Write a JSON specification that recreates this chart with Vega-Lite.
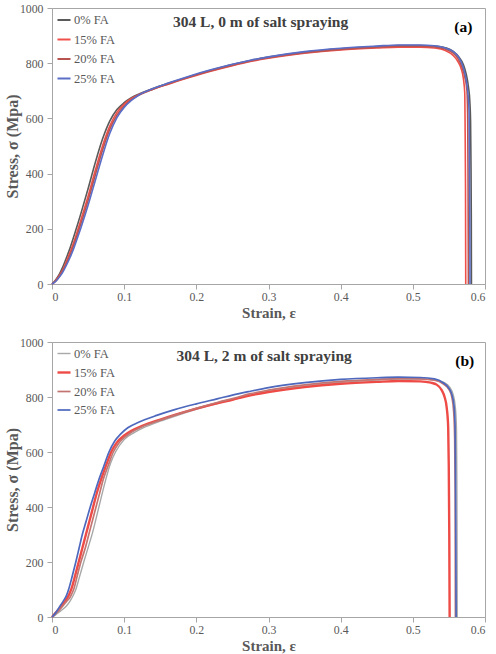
{
"$schema": "https://vega.github.io/schema/vega-lite/v6.json",
"background": "white",
"padding": {"left": 3, "top": 2, "right": 3, "bottom": 0},
"spacing": 14,
"config": {
  "font": "Liberation Serif",
  "view": {"stroke": "#a6a6a6", "strokeWidth": 1},
  "axis": {"grid": false, "labelFont": "Liberation Serif", "labelFontSize": 11.8, "labelColor": "#595959", "titleFont": "Liberation Serif", "titleFontSize": 15, "titleFontWeight": "bold", "titleColor": "#595959", "domainColor": "#a6a6a6", "tickColor": "#a6a6a6", "tickSize": 5},
  "line": {"interpolate": "monotone"},
  "legend": {"orient": "none", "legendX": 4, "legendY": 4, "padding": 0, "title": null, "symbolType": "stroke", "symbolSize": 170, "symbolStrokeWidth": 2, "labelFont": "Liberation Serif", "labelFontSize": 12.5, "labelColor": "#595959", "labelOffset": 2, "rowPadding": 4.5}
},
"resolve": {"scale": {"color": "independent", "strokeWidth": "independent"}, "legend": {"color": "independent", "strokeWidth": "independent"}},
"datasets": {
"a": [
{"series":"0% FA","strain":0,"stress":0},{"series":"0% FA","strain":0.005,"stress":15},{"series":"0% FA","strain":0.01,"stress":35},{"series":"0% FA","strain":0.015,"stress":62},{"series":"0% FA","strain":0.02,"stress":95},{"series":"0% FA","strain":0.025,"stress":130},{"series":"0% FA","strain":0.03,"stress":170},{"series":"0% FA","strain":0.035,"stress":212},{"series":"0% FA","strain":0.04,"stress":255},{"series":"0% FA","strain":0.05,"stress":345},{"series":"0% FA","strain":0.06,"stress":440},{"series":"0% FA","strain":0.07,"stress":525},{"series":"0% FA","strain":0.08,"stress":590},{"series":"0% FA","strain":0.09,"stress":632},{"series":"0% FA","strain":0.1,"stress":657},{"series":"0% FA","strain":0.11,"stress":675},{"series":"0% FA","strain":0.12,"stress":688},{"series":"0% FA","strain":0.14,"stress":708},{"series":"0% FA","strain":0.16,"stress":726},{"series":"0% FA","strain":0.19,"stress":751},{"series":"0% FA","strain":0.22,"stress":774},{"series":"0% FA","strain":0.25,"stress":795},{"series":"0% FA","strain":0.275,"stress":810},{"series":"0% FA","strain":0.3,"stress":822},{"series":"0% FA","strain":0.35,"stress":840},{"series":"0% FA","strain":0.4,"stress":852},{"series":"0% FA","strain":0.45,"stress":860},{"series":"0% FA","strain":0.48,"stress":864},{"series":"0% FA","strain":0.51,"stress":864},{"series":"0% FA","strain":0.53,"stress":862},{"series":"0% FA","strain":0.545,"stress":856},{"series":"0% FA","strain":0.556,"stress":843},{"series":"0% FA","strain":0.564,"stress":822},{"series":"0% FA","strain":0.57,"stress":795},{"series":"0% FA","strain":0.574,"stress":760},{"series":"0% FA","strain":0.577,"stress":715},{"series":"0% FA","strain":0.579,"stress":660},{"series":"0% FA","strain":0.58,"stress":590},{"series":"0% FA","strain":0.5805,"stress":450},{"series":"0% FA","strain":0.581,"stress":250},{"series":"0% FA","strain":0.5812,"stress":0},
{"series":"15% FA","strain":0,"stress":0},{"series":"15% FA","strain":0.005,"stress":12},{"series":"15% FA","strain":0.01,"stress":30},{"series":"15% FA","strain":0.015,"stress":52},{"series":"15% FA","strain":0.02,"stress":82},{"series":"15% FA","strain":0.025,"stress":115},{"series":"15% FA","strain":0.03,"stress":150},{"series":"15% FA","strain":0.035,"stress":190},{"series":"15% FA","strain":0.04,"stress":232},{"series":"15% FA","strain":0.05,"stress":318},{"series":"15% FA","strain":0.06,"stress":412},{"series":"15% FA","strain":0.07,"stress":500},{"series":"15% FA","strain":0.08,"stress":572},{"series":"15% FA","strain":0.09,"stress":622},{"series":"15% FA","strain":0.1,"stress":652},{"series":"15% FA","strain":0.11,"stress":672},{"series":"15% FA","strain":0.12,"stress":686},{"series":"15% FA","strain":0.14,"stress":706},{"series":"15% FA","strain":0.16,"stress":723},{"series":"15% FA","strain":0.19,"stress":748},{"series":"15% FA","strain":0.22,"stress":771},{"series":"15% FA","strain":0.25,"stress":791},{"series":"15% FA","strain":0.275,"stress":806},{"series":"15% FA","strain":0.3,"stress":818},{"series":"15% FA","strain":0.35,"stress":836},{"series":"15% FA","strain":0.4,"stress":848},{"series":"15% FA","strain":0.45,"stress":855},{"series":"15% FA","strain":0.48,"stress":858},{"series":"15% FA","strain":0.51,"stress":858},{"series":"15% FA","strain":0.53,"stress":855},{"series":"15% FA","strain":0.545,"stress":846},{"series":"15% FA","strain":0.555,"stress":830},{"series":"15% FA","strain":0.562,"stress":808},{"series":"15% FA","strain":0.567,"stress":780},{"series":"15% FA","strain":0.57,"stress":745},{"series":"15% FA","strain":0.572,"stress":690},{"series":"15% FA","strain":0.5725,"stress":550},{"series":"15% FA","strain":0.573,"stress":350},{"series":"15% FA","strain":0.5733,"stress":0},
{"series":"20% FA","strain":0,"stress":0},{"series":"20% FA","strain":0.005,"stress":10},{"series":"20% FA","strain":0.01,"stress":27},{"series":"20% FA","strain":0.015,"stress":48},{"series":"20% FA","strain":0.02,"stress":75},{"series":"20% FA","strain":0.025,"stress":105},{"series":"20% FA","strain":0.03,"stress":140},{"series":"20% FA","strain":0.035,"stress":178},{"series":"20% FA","strain":0.04,"stress":218},{"series":"20% FA","strain":0.05,"stress":302},{"series":"20% FA","strain":0.06,"stress":395},{"series":"20% FA","strain":0.07,"stress":485},{"series":"20% FA","strain":0.08,"stress":560},{"series":"20% FA","strain":0.09,"stress":612},{"series":"20% FA","strain":0.1,"stress":645},{"series":"20% FA","strain":0.11,"stress":668},{"series":"20% FA","strain":0.12,"stress":684},{"series":"20% FA","strain":0.14,"stress":706},{"series":"20% FA","strain":0.16,"stress":724},{"series":"20% FA","strain":0.19,"stress":750},{"series":"20% FA","strain":0.22,"stress":773},{"series":"20% FA","strain":0.25,"stress":793},{"series":"20% FA","strain":0.275,"stress":808},{"series":"20% FA","strain":0.3,"stress":820},{"series":"20% FA","strain":0.35,"stress":838},{"series":"20% FA","strain":0.4,"stress":850},{"series":"20% FA","strain":0.45,"stress":858},{"series":"20% FA","strain":0.48,"stress":862},{"series":"20% FA","strain":0.51,"stress":862},{"series":"20% FA","strain":0.53,"stress":859},{"series":"20% FA","strain":0.545,"stress":851},{"series":"20% FA","strain":0.556,"stress":836},{"series":"20% FA","strain":0.563,"stress":815},{"series":"20% FA","strain":0.568,"stress":787},{"series":"20% FA","strain":0.572,"stress":750},{"series":"20% FA","strain":0.575,"stress":700},{"series":"20% FA","strain":0.576,"stress":600},{"series":"20% FA","strain":0.5765,"stress":400},{"series":"20% FA","strain":0.577,"stress":0},
{"series":"25% FA","strain":0,"stress":0},{"series":"25% FA","strain":0.005,"stress":9},{"series":"25% FA","strain":0.01,"stress":24},{"series":"25% FA","strain":0.015,"stress":43},{"series":"25% FA","strain":0.02,"stress":68},{"series":"25% FA","strain":0.025,"stress":96},{"series":"25% FA","strain":0.03,"stress":128},{"series":"25% FA","strain":0.035,"stress":165},{"series":"25% FA","strain":0.04,"stress":203},{"series":"25% FA","strain":0.05,"stress":285},{"series":"25% FA","strain":0.06,"stress":375},{"series":"25% FA","strain":0.07,"stress":465},{"series":"25% FA","strain":0.08,"stress":545},{"series":"25% FA","strain":0.09,"stress":603},{"series":"25% FA","strain":0.1,"stress":640},{"series":"25% FA","strain":0.11,"stress":665},{"series":"25% FA","strain":0.12,"stress":684},{"series":"25% FA","strain":0.14,"stress":708},{"series":"25% FA","strain":0.16,"stress":727},{"series":"25% FA","strain":0.19,"stress":753},{"series":"25% FA","strain":0.22,"stress":776},{"series":"25% FA","strain":0.25,"stress":796},{"series":"25% FA","strain":0.275,"stress":811},{"series":"25% FA","strain":0.3,"stress":823},{"series":"25% FA","strain":0.35,"stress":842},{"series":"25% FA","strain":0.4,"stress":854},{"series":"25% FA","strain":0.45,"stress":862},{"series":"25% FA","strain":0.48,"stress":866},{"series":"25% FA","strain":0.51,"stress":866},{"series":"25% FA","strain":0.53,"stress":863},{"series":"25% FA","strain":0.545,"stress":855},{"series":"25% FA","strain":0.556,"stress":842},{"series":"25% FA","strain":0.564,"stress":820},{"series":"25% FA","strain":0.569,"stress":792},{"series":"25% FA","strain":0.573,"stress":752},{"series":"25% FA","strain":0.576,"stress":700},{"series":"25% FA","strain":0.578,"stress":620},{"series":"25% FA","strain":0.5785,"stress":400},{"series":"25% FA","strain":0.579,"stress":200},{"series":"25% FA","strain":0.5792,"stress":0}
],
"b": [
{"series":"0% FA","strain":0,"stress":0},{"series":"0% FA","strain":0.005,"stress":8},{"series":"0% FA","strain":0.01,"stress":18},{"series":"0% FA","strain":0.015,"stress":28},{"series":"0% FA","strain":0.02,"stress":40},{"series":"0% FA","strain":0.025,"stress":58},{"series":"0% FA","strain":0.03,"stress":82},{"series":"0% FA","strain":0.033,"stress":100},{"series":"0% FA","strain":0.038,"stress":145},{"series":"0% FA","strain":0.044,"stress":200},{"series":"0% FA","strain":0.05,"stress":252},{"series":"0% FA","strain":0.056,"stress":305},{"series":"0% FA","strain":0.065,"stress":400},{"series":"0% FA","strain":0.074,"stress":495},{"series":"0% FA","strain":0.081,"stress":558},{"series":"0% FA","strain":0.088,"stress":600},{"series":"0% FA","strain":0.1,"stress":645},{"series":"0% FA","strain":0.115,"stress":672},{"series":"0% FA","strain":0.13,"stress":692},{"series":"0% FA","strain":0.15,"stress":712},{"series":"0% FA","strain":0.17,"stress":730},{"series":"0% FA","strain":0.2,"stress":755},{"series":"0% FA","strain":0.23,"stress":777},{"series":"0% FA","strain":0.25,"stress":790},{"series":"0% FA","strain":0.274,"stress":806},{"series":"0% FA","strain":0.3,"stress":820},{"series":"0% FA","strain":0.35,"stress":840},{"series":"0% FA","strain":0.4,"stress":853},{"series":"0% FA","strain":0.45,"stress":862},{"series":"0% FA","strain":0.48,"stress":865},{"series":"0% FA","strain":0.51,"stress":865},{"series":"0% FA","strain":0.53,"stress":862},{"series":"0% FA","strain":0.543,"stress":853},{"series":"0% FA","strain":0.551,"stress":836},{"series":"0% FA","strain":0.556,"stress":808},{"series":"0% FA","strain":0.559,"stress":760},{"series":"0% FA","strain":0.5605,"stress":680},{"series":"0% FA","strain":0.561,"stress":500},{"series":"0% FA","strain":0.5613,"stress":250},{"series":"0% FA","strain":0.5615,"stress":0},
{"series":"15% FA","strain":0,"stress":0},{"series":"15% FA","strain":0.005,"stress":15},{"series":"15% FA","strain":0.01,"stress":30},{"series":"15% FA","strain":0.015,"stress":46},{"series":"15% FA","strain":0.02,"stress":64},{"series":"15% FA","strain":0.024,"stress":84},{"series":"15% FA","strain":0.027,"stress":103},{"series":"15% FA","strain":0.032,"stress":150},{"series":"15% FA","strain":0.037,"stress":200},{"series":"15% FA","strain":0.042,"stress":250},{"series":"15% FA","strain":0.047,"stress":300},{"series":"15% FA","strain":0.052,"stress":350},{"series":"15% FA","strain":0.057,"stress":400},{"series":"15% FA","strain":0.062,"stress":450},{"series":"15% FA","strain":0.068,"stress":500},{"series":"15% FA","strain":0.075,"stress":552},{"series":"15% FA","strain":0.082,"stress":600},{"series":"15% FA","strain":0.09,"stress":635},{"series":"15% FA","strain":0.1,"stress":660},{"series":"15% FA","strain":0.11,"stress":677},{"series":"15% FA","strain":0.125,"stress":695},{"series":"15% FA","strain":0.15,"stress":718},{"series":"15% FA","strain":0.17,"stress":735},{"series":"15% FA","strain":0.2,"stress":758},{"series":"15% FA","strain":0.23,"stress":778},{"series":"15% FA","strain":0.25,"stress":790},{"series":"15% FA","strain":0.275,"stress":806},{"series":"15% FA","strain":0.3,"stress":818},{"series":"15% FA","strain":0.35,"stress":836},{"series":"15% FA","strain":0.4,"stress":848},{"series":"15% FA","strain":0.45,"stress":855},{"series":"15% FA","strain":0.48,"stress":858},{"series":"15% FA","strain":0.51,"stress":857},{"series":"15% FA","strain":0.525,"stress":852},{"series":"15% FA","strain":0.533,"stress":845},{"series":"15% FA","strain":0.54,"stress":825},{"series":"15% FA","strain":0.544,"stress":800},{"series":"15% FA","strain":0.547,"stress":760},{"series":"15% FA","strain":0.549,"stress":690},{"series":"15% FA","strain":0.5498,"stress":550},{"series":"15% FA","strain":0.5505,"stress":300},{"series":"15% FA","strain":0.551,"stress":0},
{"series":"20% FA","strain":0,"stress":0},{"series":"20% FA","strain":0.005,"stress":12},{"series":"20% FA","strain":0.01,"stress":25},{"series":"20% FA","strain":0.015,"stress":40},{"series":"20% FA","strain":0.02,"stress":56},{"series":"20% FA","strain":0.025,"stress":72},{"series":"20% FA","strain":0.028,"stress":88},{"series":"20% FA","strain":0.03,"stress":100},{"series":"20% FA","strain":0.035,"stress":150},{"series":"20% FA","strain":0.04,"stress":200},{"series":"20% FA","strain":0.046,"stress":250},{"series":"20% FA","strain":0.051,"stress":300},{"series":"20% FA","strain":0.056,"stress":350},{"series":"20% FA","strain":0.061,"stress":400},{"series":"20% FA","strain":0.066,"stress":450},{"series":"20% FA","strain":0.071,"stress":500},{"series":"20% FA","strain":0.078,"stress":552},{"series":"20% FA","strain":0.085,"stress":600},{"series":"20% FA","strain":0.092,"stress":630},{"series":"20% FA","strain":0.1,"stress":652},{"series":"20% FA","strain":0.11,"stress":672},{"series":"20% FA","strain":0.125,"stress":692},{"series":"20% FA","strain":0.15,"stress":716},{"series":"20% FA","strain":0.17,"stress":734},{"series":"20% FA","strain":0.2,"stress":759},{"series":"20% FA","strain":0.23,"stress":781},{"series":"20% FA","strain":0.25,"stress":794},{"series":"20% FA","strain":0.275,"stress":812},{"series":"20% FA","strain":0.3,"stress":825},{"series":"20% FA","strain":0.35,"stress":844},{"series":"20% FA","strain":0.4,"stress":857},{"series":"20% FA","strain":0.45,"stress":864},{"series":"20% FA","strain":0.48,"stress":867},{"series":"20% FA","strain":0.51,"stress":866},{"series":"20% FA","strain":0.53,"stress":861},{"series":"20% FA","strain":0.542,"stress":848},{"series":"20% FA","strain":0.55,"stress":828},{"series":"20% FA","strain":0.554,"stress":800},{"series":"20% FA","strain":0.5565,"stress":750},{"series":"20% FA","strain":0.558,"stress":650},{"series":"20% FA","strain":0.5587,"stress":450},{"series":"20% FA","strain":0.559,"stress":0},
{"series":"25% FA","strain":0,"stress":0},{"series":"25% FA","strain":0.005,"stress":15},{"series":"25% FA","strain":0.01,"stress":35},{"series":"25% FA","strain":0.015,"stress":55},{"series":"25% FA","strain":0.02,"stress":78},{"series":"25% FA","strain":0.023,"stress":100},{"series":"25% FA","strain":0.028,"stress":148},{"series":"25% FA","strain":0.033,"stress":200},{"series":"25% FA","strain":0.0375,"stress":250},{"series":"25% FA","strain":0.042,"stress":300},{"series":"25% FA","strain":0.0475,"stress":350},{"series":"25% FA","strain":0.053,"stress":400},{"series":"25% FA","strain":0.059,"stress":450},{"series":"25% FA","strain":0.065,"stress":500},{"series":"25% FA","strain":0.072,"stress":550},{"series":"25% FA","strain":0.079,"stress":600},{"series":"25% FA","strain":0.087,"stress":640},{"series":"25% FA","strain":0.095,"stress":665},{"series":"25% FA","strain":0.105,"stress":688},{"series":"25% FA","strain":0.12,"stress":708},{"series":"25% FA","strain":0.145,"stress":733},{"series":"25% FA","strain":0.17,"stress":754},{"series":"25% FA","strain":0.2,"stress":775},{"series":"25% FA","strain":0.23,"stress":794},{"series":"25% FA","strain":0.25,"stress":807},{"series":"25% FA","strain":0.275,"stress":821},{"series":"25% FA","strain":0.3,"stress":834},{"series":"25% FA","strain":0.35,"stress":852},{"series":"25% FA","strain":0.4,"stress":864},{"series":"25% FA","strain":0.45,"stress":870},{"series":"25% FA","strain":0.48,"stress":872},{"series":"25% FA","strain":0.51,"stress":871},{"series":"25% FA","strain":0.53,"stress":866},{"series":"25% FA","strain":0.542,"stress":852},{"series":"25% FA","strain":0.55,"stress":832},{"series":"25% FA","strain":0.554,"stress":810},{"series":"25% FA","strain":0.557,"stress":770},{"series":"25% FA","strain":0.5585,"stress":700},{"series":"25% FA","strain":0.559,"stress":550},{"series":"25% FA","strain":0.5595,"stress":300},{"series":"25% FA","strain":0.56,"stress":0}
],
"labels": [
{"panel":"a","title":"304 L, 0 m of salt spraying","tag":"(a)"},
{"panel":"b","title":"304 L, 2 m of salt spraying","tag":"(b)"}
]
},
"vconcat": [
{
"width": 433, "height": 276,
"layer": [
{
"data": {"name": "a"},
"mark": {"type": "line", "strokeWidth": 1.6},
"encoding": {
"x": {"field": "strain", "type": "quantitative", "scale": {"domain": [0, 0.6], "nice": false}, "axis": {"values": [0, 0.1, 0.2, 0.3, 0.4, 0.5, 0.6], "format": "~g", "title": "Strain, ε", "labelPadding": 2, "titlePadding": 3}},
"y": {"field": "stress", "type": "quantitative", "scale": {"domain": [0, 1000], "nice": false}, "axis": {"values": [0, 100, 200, 300, 400, 500, 600, 700, 800, 900, 1000], "format": "d", "title": "Stress, σ (Mpa)", "titleFontSize": 16, "labelPadding": 4, "titlePadding": -1}},
"color": {"field": "series", "type": "nominal", "sort": ["0% FA", "15% FA", "20% FA", "25% FA"], "scale": {"domain": ["0% FA", "15% FA", "20% FA", "25% FA"], "range": ["#5a5a5a", "#f0504a", "#b85450", "#5a6ec8"]}}
}
},
{
"data": {"name": "labels"},
"transform": [{"filter": "datum.panel === 'a'"}],
"mark": {"type": "text", "font": "Liberation Serif", "fontSize": 15.5, "fontWeight": "bold", "color": "#404040"},
"encoding": {"x": {"datum": 0.289, "type": "quantitative"}, "y": {"datum": 949, "type": "quantitative"}, "text": {"field": "title"}}
},
{
"data": {"name": "labels"},
"transform": [{"filter": "datum.panel === 'a'"}],
"mark": {"type": "text", "font": "Liberation Serif", "fontSize": 15.5, "fontWeight": "bold", "color": "#000000"},
"encoding": {"x": {"datum": 0.57, "type": "quantitative"}, "y": {"datum": 930, "type": "quantitative"}, "text": {"field": "tag"}}
}
]
},
{
"width": 433, "height": 275,
"layer": [
{
"data": {"name": "b"},
"mark": {"type": "line"},
"encoding": {
"x": {"field": "strain", "type": "quantitative", "scale": {"domain": [0, 0.6], "nice": false}, "axis": {"values": [0, 0.1, 0.2, 0.3, 0.4, 0.5, 0.6], "format": "~g", "title": "Strain, ε", "labelPadding": 2, "titlePadding": 3}},
"y": {"field": "stress", "type": "quantitative", "scale": {"domain": [0, 1000], "nice": false}, "axis": {"values": [0, 100, 200, 300, 400, 500, 600, 700, 800, 900, 1000], "format": "d", "title": "Stress, σ (Mpa)", "titleFontSize": 16, "labelPadding": 4, "titlePadding": -1}},
"color": {"field": "series", "type": "nominal", "sort": ["0% FA", "15% FA", "20% FA", "25% FA"], "scale": {"domain": ["0% FA", "15% FA", "20% FA", "25% FA"], "range": ["#a8a8a8", "#ee4b46", "#c47470", "#4d68bd"]}},
"strokeWidth": {"field": "series", "type": "nominal", "sort": ["0% FA", "15% FA", "20% FA", "25% FA"], "scale": {"type": "ordinal", "domain": ["0% FA", "15% FA", "20% FA", "25% FA"], "range": [1.4, 2.4, 1.7, 1.7]}}
}
},
{
"data": {"name": "labels"},
"transform": [{"filter": "datum.panel === 'b'"}],
"mark": {"type": "text", "font": "Liberation Serif", "fontSize": 15.5, "fontWeight": "bold", "color": "#404040"},
"encoding": {"x": {"datum": 0.294, "type": "quantitative"}, "y": {"datum": 949, "type": "quantitative"}, "text": {"field": "title"}}
},
{
"data": {"name": "labels"},
"transform": [{"filter": "datum.panel === 'b'"}],
"mark": {"type": "text", "font": "Liberation Serif", "fontSize": 15.5, "fontWeight": "bold", "color": "#000000"},
"encoding": {"x": {"datum": 0.572, "type": "quantitative"}, "y": {"datum": 930, "type": "quantitative"}, "text": {"field": "tag"}}
}
]
}
]
}
